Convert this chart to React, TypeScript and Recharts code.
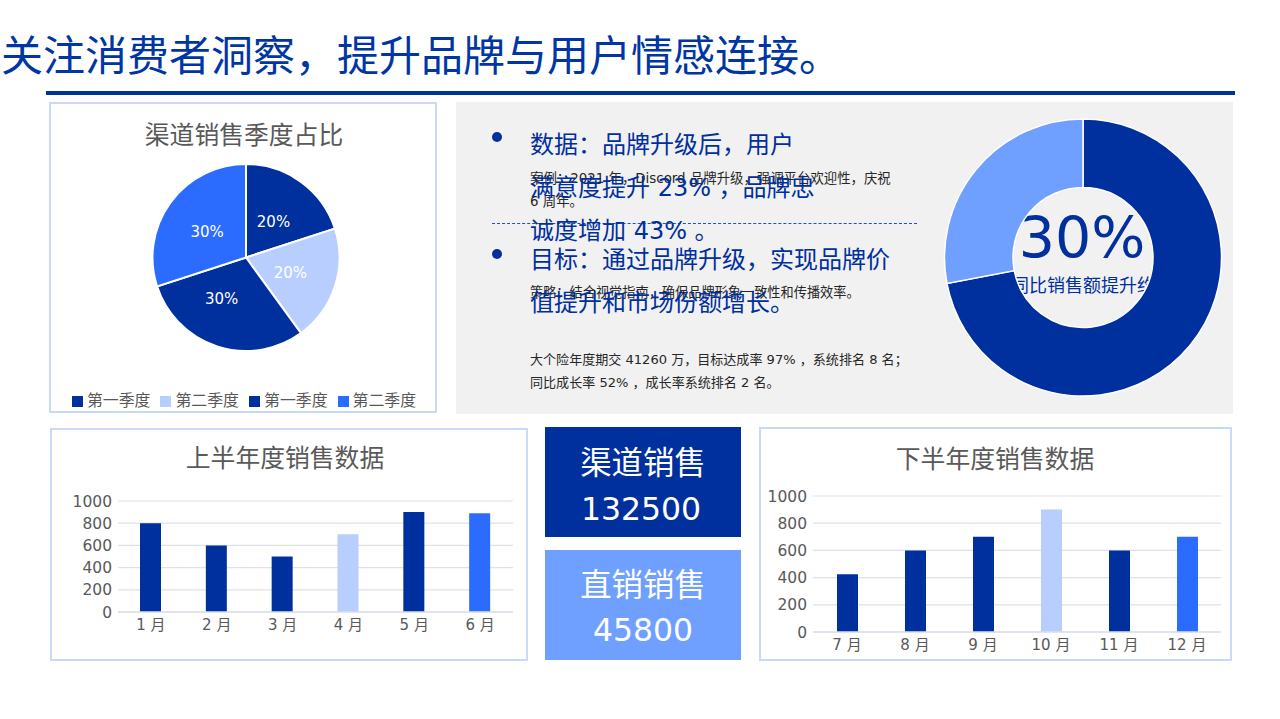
import * as React from 'react';
import { Bar, BarChart, CartesianGrid, Cell, Legend, Pie, PieChart, XAxis, YAxis } from 'recharts';

const DARK = '#002F9E';
const PALE = '#B8CEFF';
const BRIGHT = '#2B6CFF';
const SOFT = '#6F9FFF';
const GREY = '#595959';
const GRID = '#DCE1EA';
const FONT = '"DejaVu Sans", "Noto Sans CJK SC", sans-serif';

const quarterNames = ['第一季度', '第二季度', '第一季度', '第二季度'];
const quarterValues = [20, 20, 30, 30];
const quarterColors = [DARK, PALE, DARK, BRIGHT];
// one label was moved by hand in the original, the others need a pixel or two
const labelNudgeX = [0, 0, -10, -1];
const labelNudgeY = [2, 1, -3, 2];

const firstMonths = ['1 月', '2 月', '3 月', '4 月', '5 月', '6 月'];
const firstSales = [800, 600, 500, 700, 900, 890];
const secondMonths = ['7 月', '8 月', '9 月', '10 月', '11 月', '12 月'];
const secondSales = [425, 600, 700, 900, 600, 700];
const barColors = [DARK, DARK, DARK, PALE, DARK, BRIGHT];
const salesTicks = [0, 200, 400, 600, 800, 1000];

const ringNames = ['同比', '其他'];
const ringValues = [72, 28];
const ringColors = [DARK, SOFT];

const pieData = quarterNames.map((name, i) => ({ name, value: quarterValues[i], fill: quarterColors[i] }));
const ringData = ringNames.map((name, i) => ({ name, value: ringValues[i], fill: ringColors[i] }));
const firstData = firstMonths.map((month, i) => ({ month, sales: firstSales[i] }));
const secondData = secondMonths.map((month, i) => ({ month, sales: secondSales[i] }));

const noMargin = { top: 0, right: 0, bottom: 0, left: 0 };

function place(left: number, top: number, width: number, height: number): React.CSSProperties {
  return { position: 'absolute', left, top, width, height };
}

function Line(props: { x: number; y: number; size: number; color: string; children: React.ReactNode }) {
  return (
    <div
      style={{
        position: 'absolute',
        left: props.x,
        top: props.y - props.size,
        lineHeight: `${props.size * 2}px`,
        fontSize: props.size,
        color: props.color,
        whiteSpace: 'pre',
      }}
    >
      {props.children}
    </div>
  );
}

function Centered(props: { x: number; y: number; size: number; color: string; children: React.ReactNode }) {
  return (
    <div
      style={{
        position: 'absolute',
        left: props.x - 300,
        width: 600,
        textAlign: 'center',
        top: props.y - props.size,
        lineHeight: `${props.size * 2}px`,
        fontSize: props.size,
        color: props.color,
        whiteSpace: 'pre',
      }}
    >
      {props.children}
    </div>
  );
}

function Panel(props: { left: number; top: number; width: number; height: number }) {
  return (
    <div
      style={{
        ...place(props.left, props.top, props.width, props.height),
        boxSizing: 'border-box',
        border: '2px solid #C9D9FA',
        background: '#fff',
      }}
    />
  );
}

function pieLabel(props: any) {
  const { cx, cy, midAngle, outerRadius, value, index } = props;
  const r = outerRadius * 0.5;
  const a = (-midAngle * Math.PI) / 180;
  return (
    <text
      x={cx + r * Math.cos(a) + labelNudgeX[index]}
      y={cy + r * Math.sin(a) + labelNudgeY[index]}
      fill="#fff"
      fontSize={15}
      textAnchor="middle"
      dominantBaseline="central"
    >
      {`${value}%`}
    </text>
  );
}

function SalesChart(props: {
  data: { month: string; sales: number }[];
  left: number;
  top: number;
  width: number;
  height: number;
  plotTop: number;
  plotRight: number;
  axisHeight: number;
}) {
  return (
    <div style={place(props.left, props.top, props.width, props.height)}>
      <BarChart
        width={props.width}
        height={props.height}
        data={props.data}
        margin={{ top: props.plotTop, right: props.plotRight, bottom: 0, left: 0 }}
      >
        <CartesianGrid vertical={false} stroke={GRID} strokeWidth={1.2} />
        <XAxis
          dataKey="month"
          height={props.axisHeight}
          axisLine={{ stroke: GRID, strokeWidth: 1.5 }}
          tickLine={false}
          tick={{ fill: GREY, fontSize: 15 }}
          tickMargin={1}
          interval={0}
        />
        <YAxis
          width={70}
          domain={[0, 1000]}
          ticks={salesTicks}
          axisLine={false}
          tickLine={false}
          tick={{ fill: GREY, fontSize: 15.5 }}
          tickMargin={0}
          interval={0}
        />
        <Bar dataKey="sales" barSize={21} isAnimationActive={false}>
          {props.data.map((d, i) => (
            <Cell key={d.month} fill={barColors[i]} />
          ))}
        </Bar>
      </BarChart>
    </div>
  );
}

export default function App() {
  return (
    <div
      style={{
        position: 'absolute',
        left: 0,
        top: 0,
        width: 1280,
        height: 719,
        background: '#fff',
        overflow: 'hidden',
        fontFamily: FONT,
      }}
    >
      <Line x={1} y={57} size={42} color="#0036A3">
        关注消费者洞察，提升品牌与用户情感连接。
      </Line>
      <div style={{ ...place(46, 91, 1189, 4), background: '#003399' }} />

      {/* pie panel */}
      <Panel left={49} top={102} width={388} height={311} />
      <Centered x={244} y={136} size={24.8} color={GREY}>
        渠道销售季度占比
      </Centered>
      <div style={place(49, 102, 388, 311)}>
        <PieChart width={388} height={311} margin={noMargin}>
          <Pie
            data={pieData}
            dataKey="value"
            nameKey="name"
            cx={197}
            cy={155.5}
            outerRadius={93.5}
            startAngle={90}
            endAngle={-270}
            stroke="#fff"
            strokeWidth={2}
            label={pieLabel}
            labelLine={false}
            isAnimationActive={false}
          />
          <Legend
            verticalAlign="bottom"
            align="center"
            iconType="square"
            iconSize={11}
            itemSorter={null}
            wrapperStyle={{ bottom: 2, left: 6 }}
            formatter={(value: string) => <span style={{ color: GREY, fontSize: 15.9 }}>{value}</span>}
          />
        </PieChart>
      </div>

      {/* grey text panel */}
      <div style={{ ...place(456, 102, 777, 312), background: '#F1F1F1' }} />
      <div style={{ ...place(492, 132, 10, 10), borderRadius: 5, background: DARK }} />
      <div style={{ ...place(492, 249, 10, 10), borderRadius: 5, background: DARK }} />
      <div style={{ position: 'absolute', left: 492, top: 223, width: 425, borderTop: '1px dashed #1F4FC0' }} />
      <Line x={530} y={179} size={13.4} color="#262626">
        案例：2021 年，Discord 品牌升级，强调平台欢迎性，庆祝
      </Line>
      <Line x={530} y={202} size={13.4} color="#262626">
        6 周年。
      </Line>
      <Line x={530} y={293} size={13.2} color="#262626">
        策略：结合视觉指南，确保品牌形象一致性和传播效率。
      </Line>
      <Line x={530} y={360} size={13.05} color="#262626">
        大个险年度期交 41260 万，目标达成率 97% ，系统排名 8 名；
      </Line>
      <Line x={530} y={383} size={13.05} color="#262626">
        同比成长率 52% ，成长率系统排名 2 名。
      </Line>
      <Line x={530} y={145} size={24} color={DARK}>
        数据：品牌升级后，用户
      </Line>
      <Line x={530} y={188} size={24} color={DARK}>
        满意度提升 23% ，品牌忠
      </Line>
      <Line x={530} y={231} size={24} color={DARK}>
        诚度增加 43% 。
      </Line>
      <Line x={530} y={260} size={24} color={DARK}>
        目标：通过品牌升级，实现品牌价
      </Line>
      <Line x={530} y={303} size={24} color={DARK}>
        值提升和市场份额增长。
      </Line>

      {/* the ring sits on top of its centre text and cuts it off */}
      <Centered x={1082} y={238} size={57} color={DARK}>
        30%
      </Centered>
      <Centered x={1083} y={286} size={18} color={DARK}>
        同比销售额提升约
      </Centered>
      <div style={place(930, 105, 310, 305)}>
        <PieChart width={310} height={305} margin={noMargin}>
          <Pie
            data={ringData}
            dataKey="value"
            nameKey="name"
            cx={153}
            cy={152.5}
            innerRadius={70}
            outerRadius={138.5}
            startAngle={90}
            endAngle={-270}
            stroke="#fff"
            strokeWidth={1.5}
            isAnimationActive={false}
          />
        </PieChart>
      </div>

      {/* lower left bars */}
      <Panel left={50} top={428} width={478} height={233} />
      <Centered x={285} y={459} size={24.8} color={GREY}>
        上半年度销售数据
      </Centered>
      <SalesChart data={firstData} left={48} top={428} width={480} height={233} plotTop={73} plotRight={15} axisHeight={49} />

      {/* the two number boxes */}
      <div style={{ ...place(545, 427, 196, 110), background: DARK }} />
      <Centered x={643} y={463} size={31.4} color="#fff">
        渠道销售
      </Centered>
      <Centered x={641} y={509} size={31.5} color="#fff">
        132500
      </Centered>
      <div style={{ ...place(545, 550, 196, 110), background: SOFT }} />
      <Centered x={643} y={585} size={31.4} color="#fff">
        直销销售
      </Centered>
      <Centered x={643} y={630} size={31.5} color="#fff">
        45800
      </Centered>

      {/* lower right bars */}
      <Panel left={759} top={427} width={473} height={234} />
      <Centered x={995} y={460} size={24.8} color={GREY}>
        下半年度销售数据
      </Centered>
      <SalesChart data={secondData} left={743} top={427} width={490} height={234} plotTop={69} plotRight={12} axisHeight={29} />
    </div>
  );
}
